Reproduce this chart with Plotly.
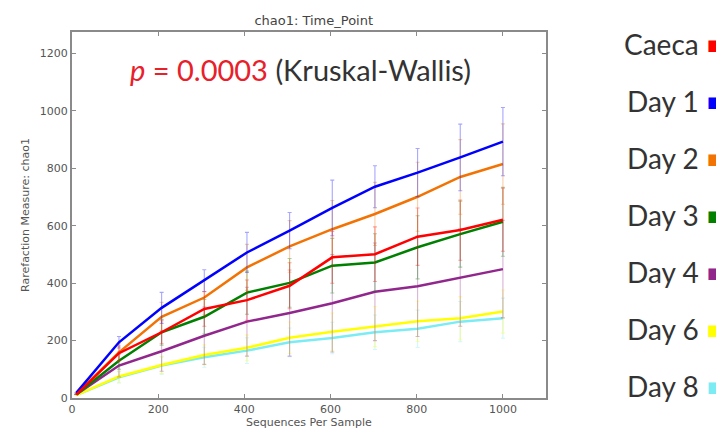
import plotly.graph_objects as go

# rarefaction depths (sequences per sample)
depths = [10, 109, 208, 307, 406, 505, 604, 703, 802, 901, 1000]

groups = ['Caeca', 'Day 1', 'Day 2', 'Day 3', 'Day 4', 'Day 6', 'Day 8']
colors = ['#ff0000', '#0000ff', '#f27304', '#008000', '#91278d', '#ffff00', '#7cecf4']

caeca = [12, 156, 229, 310, 341, 391, 490, 501, 562, 585, 621]
day1 = [18, 194, 314, 409, 507, 583, 662, 736, 785, 838, 893]
day2 = [14, 159, 283, 350, 455, 528, 588, 641, 701, 770, 815]
day3 = [12, 130, 229, 283, 367, 401, 461, 472, 525, 571, 614]
day4 = [12, 113, 163, 217, 266, 296, 330, 370, 389, 420, 449]
day6 = [10, 75, 115, 150, 175, 210, 231, 249, 267, 278, 301]
day8 = [10, 72, 113, 142, 165, 194, 209, 229, 241, 266, 278]

# standard deviations (error bars)
caeca_sd = [0, 25, 40, 60, 70, 80, 90, 95, 100, 105, 110]
day1_sd = [0, 20, 54, 38, 70, 63, 97, 73, 84, 116, 119]
day2_sd = [0, 30, 50, 60, 80, 90, 100, 110, 120, 130, 140]
day3_sd = [0, 30, 45, 60, 75, 85, 95, 100, 110, 115, 120]
day4_sd = [0, 40, 70, 100, 120, 150, 170, 170, 175, 170, 170]
day6_sd = [0, 20, 30, 35, 45, 55, 65, 70, 70, 75, 75]
day8_sd = [0, 20, 30, 35, 45, 50, 55, 60, 65, 70, 70]

means = [caeca, day1, day2, day3, day4, day6, day8]
sds = [caeca_sd, day1_sd, day2_sd, day3_sd, day4_sd, day6_sd, day8_sd]


def rgba(hex_color, a):
    h = hex_color.lstrip('#')
    return 'rgba(%d,%d,%d,%s)' % (int(h[0:2], 16), int(h[2:4], 16), int(h[4:6], 16), a)


fig = go.Figure()

# draw back to front so the top lines sit on top like the original
for name, col, m, s in reversed(list(zip(groups, colors, means, sds))):
    fig.add_trace(go.Scatter(
        x=depths, y=m, mode='lines', name=name,
        line=dict(color=col, width=2.5),
        error_y=dict(type='data', array=s, visible=True,
                     color=rgba(col, 0.35), thickness=1.1, width=2),
        showlegend=False,
    ))

axis_font = dict(family='DejaVu Sans', size=11, color='#555555')

fig.update_xaxes(
    range=[0, 1100], tickvals=[0, 200, 400, 600, 800, 1000],
    showline=True, linecolor='#8a8a8a', linewidth=2, mirror='ticks',
    ticks='inside', ticklen=4, tickcolor='#8a8a8a', showgrid=False, zeroline=False,
    tickfont=axis_font, automargin=False,
    title=dict(text='Sequences Per Sample', font=axis_font, standoff=2),
)
fig.update_yaxes(
    range=[0, 1275], tickvals=[0, 200, 400, 600, 800, 1000, 1200],
    showline=True, linecolor='#8a8a8a', linewidth=2, mirror='ticks',
    ticks='inside', ticklen=4, tickcolor='#8a8a8a', showgrid=False, zeroline=False,
    tickfont=axis_font, automargin=False,
    title=dict(text='Rarefaction Measure: chao1', font=axis_font, standoff=8),
)

# p-value annotation
fig.add_annotation(
    x=0.483, y=0.95, xref='paper', yref='paper', showarrow=False,
    text="<span style='color:#e8202a'><i>p</i> = 0.0003</span> (Kruskal-Wallis)",
    font=dict(family='Lato', size=29, color='#333333'),
)

# legend on the right: label then colored square
for i, (name, col) in enumerate(zip(groups, colors)):
    ypos = (390 - (36 + i * 57)) / 366
    fig.add_annotation(
        x=1.328, y=ypos, xref='paper', yref='paper',
        xanchor='right', yanchor='middle', showarrow=False,
        text=name, font=dict(family='Lato', size=28, color='#333333'),
    )
    fig.add_annotation(
        x=1.336, y=ypos - 0.004, xref='paper', yref='paper',
        xanchor='left', yanchor='middle', showarrow=False,
        text='■', font=dict(family='DejaVu Sans', size=15, color=col),
    )

fig.update_layout(
    width=716, height=427,
    margin=dict(l=64, r=178, t=24, b=37),
    paper_bgcolor='white', plot_bgcolor='white',
    title=dict(text='chao1: Time_Point', x=0.427, xanchor='center', y=0.97, yanchor='middle',
               font=dict(family='DejaVu Sans', size=13, color='#444444')),
)

fig.write_html('out.html')
